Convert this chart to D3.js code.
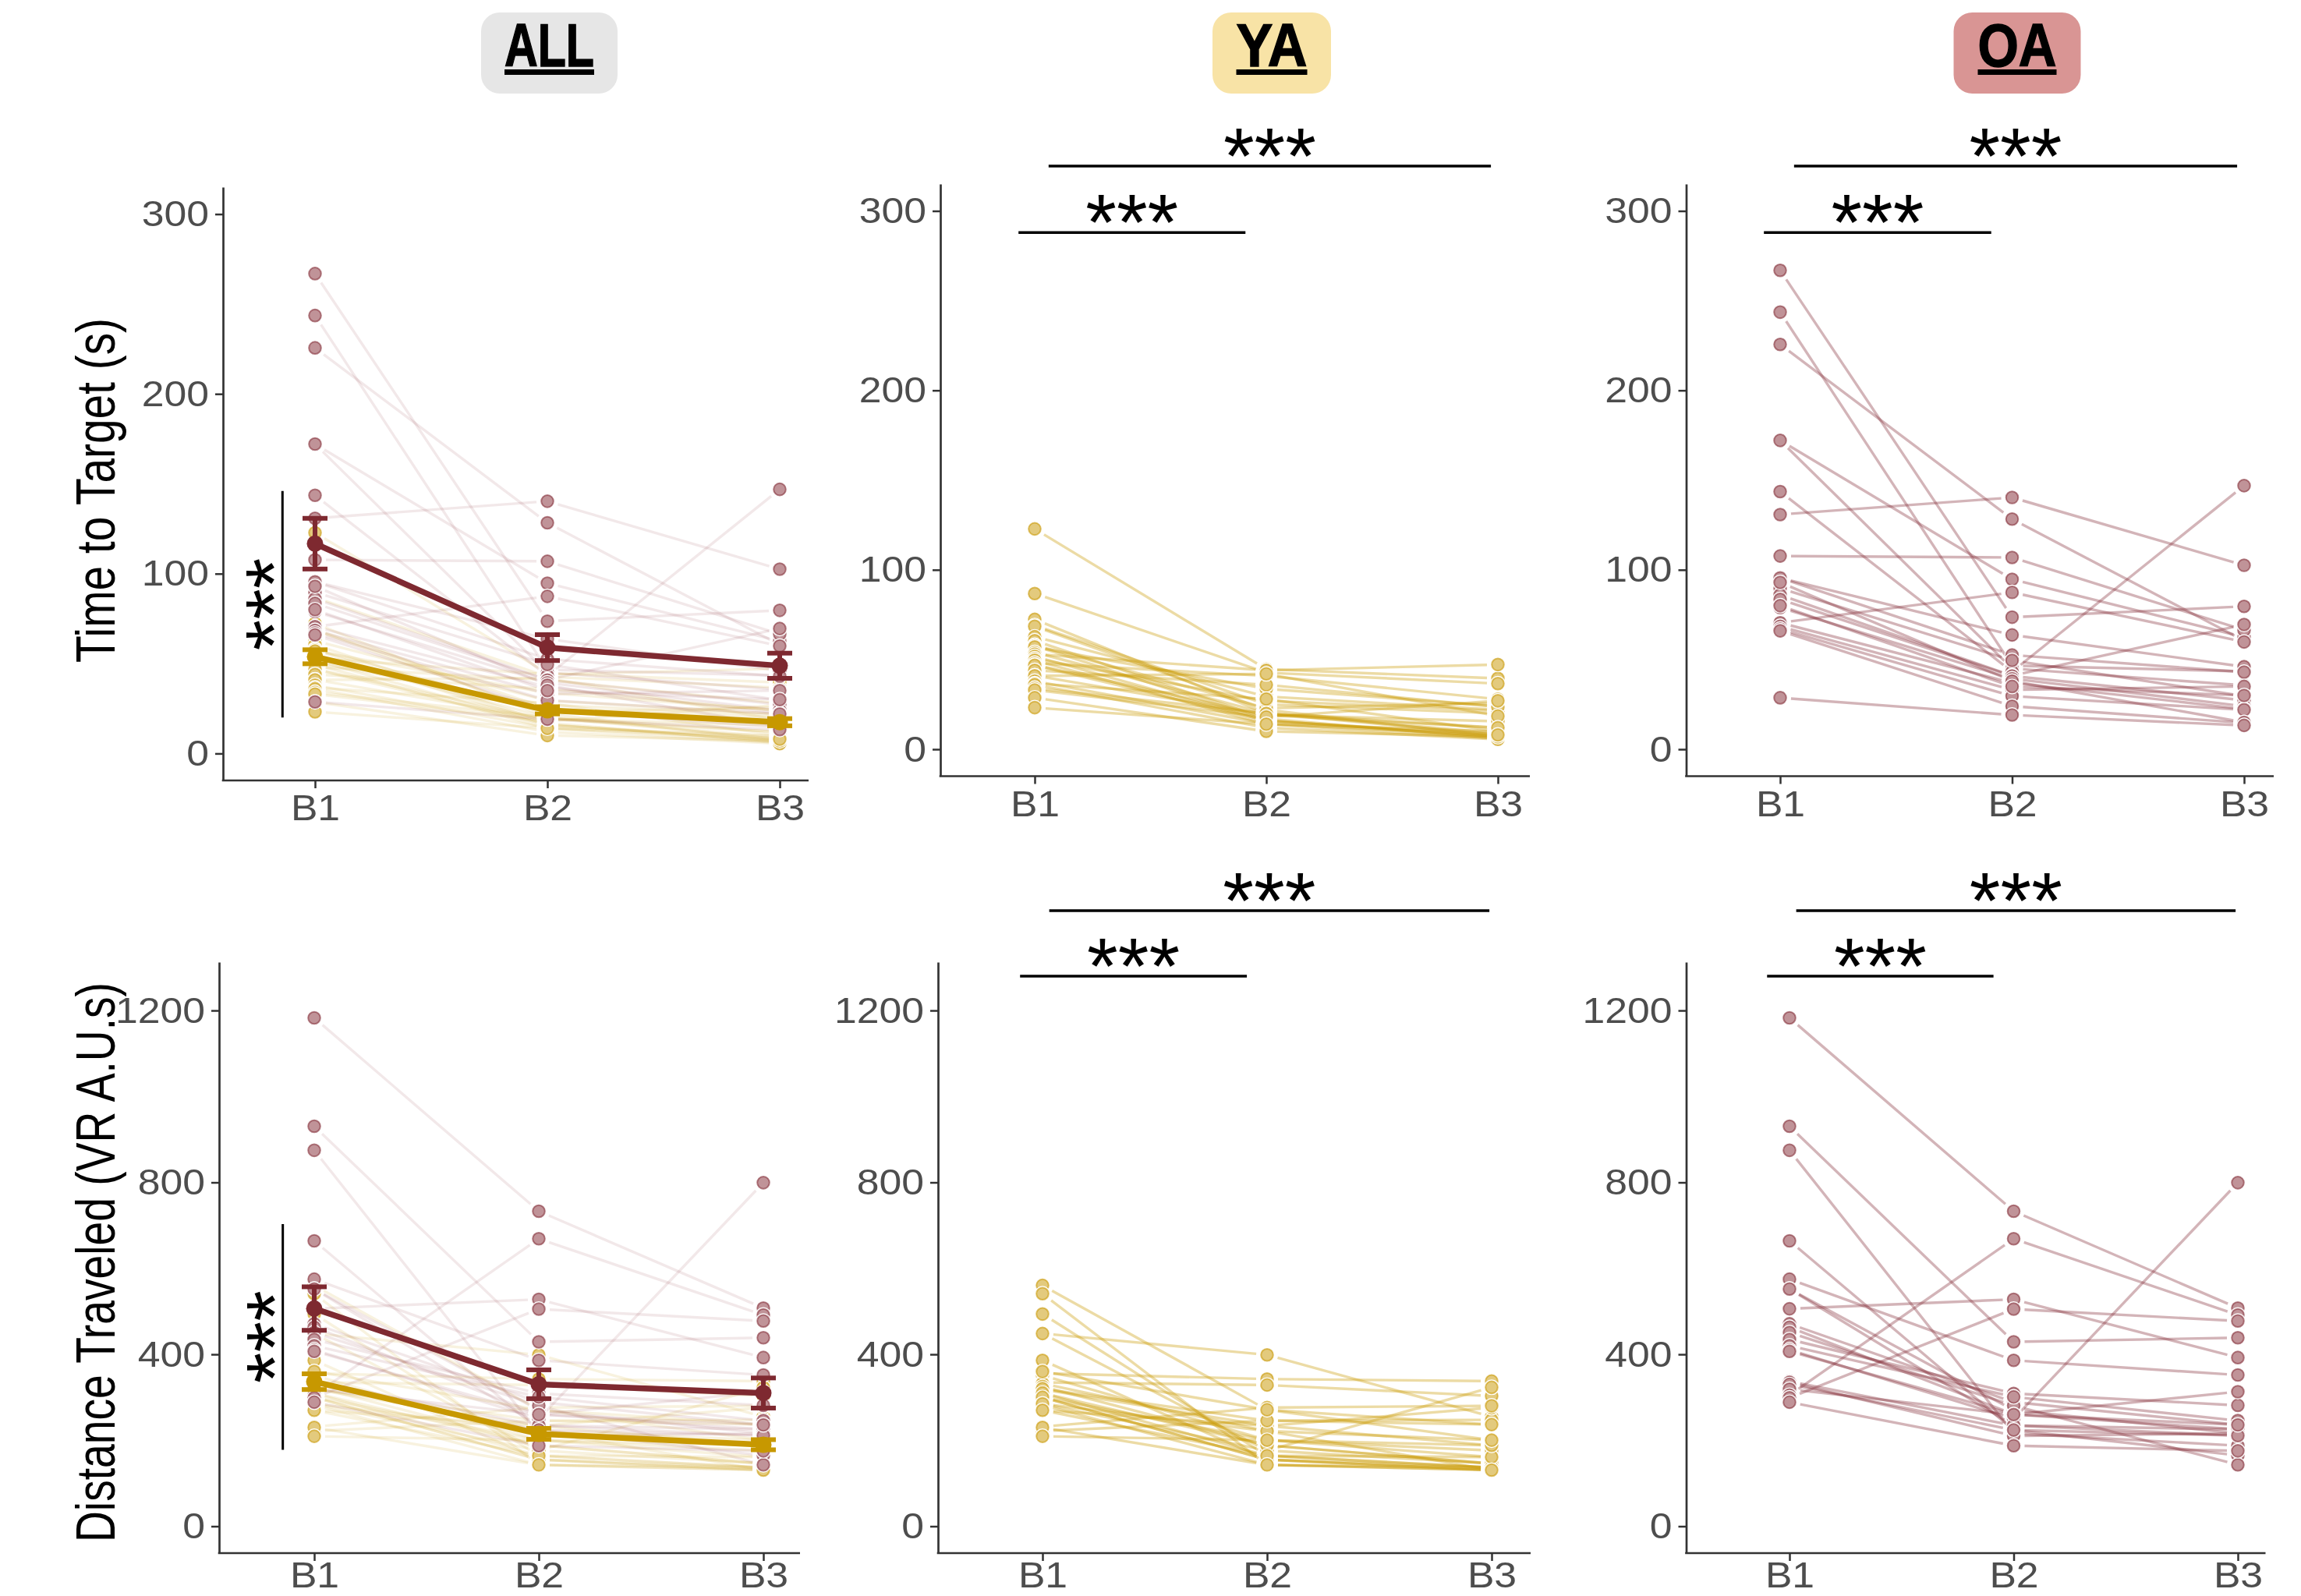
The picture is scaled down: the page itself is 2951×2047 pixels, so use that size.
<!DOCTYPE html>
<html>
<head>
<meta charset="utf-8">
<script src="https://cdn.jsdelivr.net/npm/d3@7"></script>
<style>
body { margin: 0; background: #fff; }
</style>
</head>
<body>
<div id="chart"></div>
<script>
// blocks on the x axis
var blocks = ["B1", "B2", "B3"];
var groups = ["ALL", "YA", "OA"];
var timeTicks = [0, 100, 200, 300];
var distTicks = [0, 400, 800, 1200];

// time to target (s), one entry per participant
var yaTimeB1 = [122.8, 86.8, 72.4, 69, 68.5, 62.7, 60.5, 58, 57.6, 57, 54, 53, 51.8, 50.5, 49.6, 48, 47, 46.8, 44, 41, 40.9, 38, 36.6, 36, 34, 33, 28.7, 23.2];
var yaTimeB2 = [44.6, 42.7, 20, 25, 22, 29.4, 17, 22.9, 16, 33.7, 20, 44, 15.6, 27, 14, 40.9, 19, 16, 35.9, 19.2, 42, 14.2, 28, 12, 20, 18, 10, 14];
var yaTimeB3 = [39.5, 36.6, 8, 20, 7, 22, 6, 25.7, 7, 24, 9, 47.2, 8.4, 21.4, 6, 27.9, 12, 6.9, 23.6, 15.6, 18.5, 9.9, 10, 5.5, 12, 27, 7, 8];

var oaTimeB1 = [266.9, 243.6, 225.6, 172.1, 172.1, 143.6, 130.8, 107.7, 95.5, 95.5, 89.7, 86, 83.5, 79, 70.5, 70.5, 68.5, 67, 66, 93, 28.7, 80];
var oaTimeB2 = [73.6, 46.6, 128.3, 94.7, 45, 43.2, 140.3, 106.9, 63.7, 52.5, 49.5, 41, 40.8, 39.3, 87.4, 37, 33.1, 29.6, 24, 38, 19.1, 35];
var oaTimeB3 = [79.6, 43.4, 60.5, 62.5, 35.6, 146.9, 102.5, 66.4, 46, 43, 29.6, 69.5, 27.3, 24, 59.8, 22.4, 35, 22, 14.7, 15, 13.3, 30];

// distance traveled (VR A.U.s)
var yaDistB1 = [560.4, 541, 493.8, 448.4, 448.4, 386.1, 355.8, 351, 334.7, 332, 325, 318.3, 309.3, 300, 320, 285, 282, 300, 269.9, 310, 300, 285, 231.8, 270, 221.5, 230, 209.4, 360];
var yaDistB2 = [271, 142.8, 164, 398.8, 176.1, 154.9, 342.5, 200.3, 328.6, 221.5, 188.2, 233.6, 164, 154.9, 245.7, 176.1, 142.8, 200.3, 233.6, 188.2, 154.9, 221.5, 276, 164, 245.7, 142.8, 200.3, 271];
var yaDistB3 = [236.6, 130.7, 136.7, 254.8, 145.8, 130.7, 337.7, 176.1, 303.2, 200.3, 145.8, 188.2, 136.7, 130.7, 247.5, 323.2, 136.7, 161, 276, 145.8, 136.7, 130.7, 280.2, 161, 236.6, 130.7, 188.2, 200.3];

var oaDistB1 = [1182.8, 930.7, 874.7, 664, 574.8, 552, 552, 506, 471, 463, 450.8, 434.6, 420, 410.3, 407, 337.3, 335, 330, 318.8, 305, 299, 288.7];
var oaDistB2 = [733, 429, 215.9, 223.9, 386, 270, 234.4, 527.9, 288.7, 260.4, 280.7, 309, 301, 250, 260, 234.4, 210.2, 223.9, 260, 668.9, 505.2, 187.5];
var oaDistB3 = [507.6, 438.6, 187.5, 164.8, 352, 216, 211, 392.5, 236, 225.5, 142.9, 281.4, 245.8, 799.4, 313, 225.5, 216, 211, 236, 491.5, 477.6, 175.4];

// group means and standard errors shown in the ALL panels
var yaTimeMean = [53.8, 24.0, 17.4], yaTimeSE = [3.9, 2.0, 2.0];
var oaTimeMean = [116.7, 58.9, 48.8], oaTimeSE = [14.1, 7.2, 7.0];
var yaDistMean = [336.4, 215, 189.7], yaDistSE = [18.3, 12.8, 11.8];
var oaDistMean = [506.5, 330.4, 310], oaDistSE = [50.6, 33.5, 35];

// significance brackets: [from block, to block, y value]
var timeBrackets = [[1.06, 2.97, 325], [0.93, 1.91, 288]];
var distBrackets = [[1.03, 2.99, 1432], [0.9, 1.91, 1280]];
var timeAllBracket = [0.86, 20, 146];
var distAllBracket = [0.86, 178, 703];

var maroon = "#86303a", gold = "#c99a06";
var maroonMean = "#7e2930", goldMean = "#c79800";
var headFill = ["#e6e6e6", "#f8e3a6", "#d99594"];

function rows(b1, b2, b3) {
	return b1.map(function (v, i) { return [v, b2[i], b3[i]]; });
}
var yaTime = rows(yaTimeB1, yaTimeB2, yaTimeB3);
var oaTime = rows(oaTimeB1, oaTimeB2, oaTimeB3);
var yaDist = rows(yaDistB1, yaDistB2, yaDistB3);
var oaDist = rows(oaDistB1, oaDistB2, oaDistB3);

var svg = d3.select("#chart").append("svg")
	.attr("width", 2951)
	.attr("height", 2047)
	.style("font-family", "'Liberation Sans', Arial, sans-serif");

var panels = [
	{ g: 0, m: "time", left: 286, right: 1037, top: 240, bottom: 1001, x1: 404, x3: 1000 },
	{ g: 1, m: "time", left: 1206, right: 1962, top: 236, bottom: 995.5, x1: 1327, x3: 1921 },
	{ g: 2, m: "time", left: 2162.5, right: 2916, top: 236, bottom: 995.5, x1: 2283, x3: 2878 },
	{ g: 0, m: "dist", left: 281, right: 1026, top: 1234, bottom: 1992, x1: 403, x3: 979 },
	{ g: 1, m: "dist", left: 1203, right: 1963, top: 1234, bottom: 1992, x1: 1337, x3: 1913 },
	{ g: 2, m: "dist", left: 2162.5, right: 2905.5, top: 1234, bottom: 1992, x1: 2295, x3: 2870 }
];

function shorten(x0, y0, x1, y1, gap) {
	var dx = x1 - x0, dy = y1 - y0;
	var L = Math.sqrt(dx * dx + dy * dy);
	if (L < 2 * gap + 1) return null;
	var ux = dx / L, uy = dy / L;
	return [x0 + ux * gap, y0 + uy * gap, x1 - ux * gap, y1 - uy * gap];
}

function drawSubjects(g, x, y, data, color, lineAlpha) {
	var segs = [];
	data.forEach(function (r) {
		for (var i = 0; i < 2; i++) {
			var s = shorten(x(i + 1), y(r[i]), x(i + 2), y(r[i + 1]), 14);
			if (s) segs.push(s);
		}
	});
	g.append("g").selectAll("line")
		.data(segs)
		.join("line")
		.attr("x1", function (d) { return d[0]; })
		.attr("y1", function (d) { return d[1]; })
		.attr("x2", function (d) { return d[2]; })
		.attr("y2", function (d) { return d[3]; })
		.attr("stroke", color)
		.attr("stroke-opacity", lineAlpha)
		.attr("stroke-width", 3.4);

	var pts = [];
	data.forEach(function (r) {
		r.forEach(function (v, i) { pts.push([i + 1, v]); });
	});
	var pg = g.append("g").selectAll("g")
		.data(pts)
		.join("g")
		.attr("transform", function (d) { return "translate(" + x(d[0]) + "," + y(d[1]) + ")"; });
	pg.append("circle").attr("r", 10).attr("fill", "#fff");
	pg.append("circle").attr("r", 7.8)
		.attr("fill", color).attr("fill-opacity", 0.52)
		.attr("stroke", color).attr("stroke-opacity", 0.6).attr("stroke-width", 2);
}

function drawSummary(g, x, y, mean, se, color) {
	g.append("path")
		.datum(mean)
		.attr("d", d3.line().x(function (d, i) { return x(i + 1); }).y(function (d) { return y(d); }))
		.attr("fill", "none")
		.attr("stroke", color)
		.attr("stroke-width", 7.5);
	var eb = g.append("g").selectAll("g")
		.data(mean)
		.join("g")
		.attr("stroke", color)
		.attr("stroke-width", 6);
	eb.append("line")
		.attr("x1", function (d, i) { return x(i + 1); })
		.attr("x2", function (d, i) { return x(i + 1); })
		.attr("y1", function (d, i) { return y(d - se[i]); })
		.attr("y2", function (d, i) { return y(d + se[i]); });
	[-1, 1].forEach(function (sgn) {
		eb.append("line")
			.attr("x1", function (d, i) { return x(i + 1) - 16; })
			.attr("x2", function (d, i) { return x(i + 1) + 16; })
			.attr("y1", function (d, i) { return y(d + sgn * se[i]); })
			.attr("y2", function (d, i) { return y(d + sgn * se[i]); });
	});
	g.append("g").selectAll("circle")
		.data(mean)
		.join("circle")
		.attr("cx", function (d, i) { return x(i + 1); })
		.attr("cy", function (d) { return y(d); })
		.attr("r", 10.5)
		.attr("fill", color);
}

function stars(g, tx, ty, rot) {
	g.append("text")
		.attr("transform", "translate(" + tx + "," + ty + ")" + (rot ? " rotate(-90)" : ""))
		.attr("text-anchor", "middle")
		.attr("font-size", 102)
		.attr("fill", "#000")
		.text("***");
}

panels.forEach(function (p) {
	var isTime = p.m === "time";
	var x = d3.scaleLinear().domain([1, 3]).range([p.x1, p.x3]);
	var y = d3.scaleLinear()
		.domain(isTime ? [-15, 315] : [-62.5, 1312.5])
		.range([p.bottom, p.top]);
	var g = svg.append("g");

	// axes
	var ya = g.append("g")
		.attr("transform", "translate(" + p.left + ",0)")
		.call(d3.axisLeft(y)
			.tickValues(isTime ? timeTicks : distTicks)
			.tickFormat(d3.format("d"))
			.tickSize(10).tickSizeOuter(0).tickPadding(8));
	var xa = g.append("g")
		.attr("transform", "translate(0," + p.bottom + ")")
		.call(d3.axisBottom(x).tickValues([1, 2, 3]).tickFormat(function (d) { return blocks[d - 1]; })
			.tickSize(10).tickPadding(isTime ? 8 : 1));
	xa.select(".domain").remove();
	g.append("line")
		.attr("x1", p.left - 1.3).attr("x2", p.right)
		.attr("y1", p.bottom).attr("y2", p.bottom)
		.attr("stroke", "#333").attr("stroke-width", 2.7);
	[ya, xa].forEach(function (a) {
		a.selectAll(".domain").attr("stroke", "#333").attr("stroke-width", 2.7);
		a.selectAll(".tick line").attr("stroke", "#333").attr("stroke-width", 2.5);
		a.selectAll(".tick text")
			.attr("fill", "#4d4d4d")
			.style("font-family", "'Liberation Sans', Arial, sans-serif")
			.style("font-size", "47px")
			.each(function () {
				var t = d3.select(this);
				t.attr("textLength", this.getComputedTextLength() * 1.1)
					.attr("lengthAdjust", "spacingAndGlyphs");
			});
	});

	var ya_ = isTime ? yaTime : yaDist, oa_ = isTime ? oaTime : oaDist;
	var plot = g.append("g");
	if (p.g === 0) {
		drawSubjects(plot, x, y, ya_, gold, 0.13);
		drawSubjects(plot, x, y, oa_, maroon, 0.11);
		drawSummary(plot, x, y, isTime ? oaTimeMean : oaDistMean, isTime ? oaTimeSE : oaDistSE, maroonMean);
		drawSummary(plot, x, y, isTime ? yaTimeMean : yaDistMean, isTime ? yaTimeSE : yaDistSE, goldMean);
		var ab = isTime ? timeAllBracket : distAllBracket;
		g.append("line")
			.attr("x1", x(ab[0])).attr("x2", x(ab[0]))
			.attr("y1", y(ab[1])).attr("y2", y(ab[2]))
			.attr("stroke", "#000").attr("stroke-width", 3);
		stars(g, x(ab[0]) + 24, y((ab[1] + ab[2]) / 2), true);
	} else {
		drawSubjects(plot, x, y, p.g === 1 ? ya_ : oa_, p.g === 1 ? gold : maroon, 0.36);
		(isTime ? timeBrackets : distBrackets).forEach(function (b) {
			g.append("line")
				.attr("x1", x(b[0])).attr("x2", x(b[1]))
				.attr("y1", y(b[2])).attr("y2", y(b[2]))
				.attr("stroke", "#000").attr("stroke-width", 3.5);
			stars(g, (x(b[0]) + x(b[1])) / 2, y(b[2]) + 22, false);
		});
	}
});

// column headers
var heads = [
	{ cx: 704.5, w: 175, tw: 115 },
	{ cx: 1631, w: 152, tw: 91 },
	{ cx: 2587, w: 163, tw: 101 }
];
heads.forEach(function (h, i) {
	svg.append("rect")
		.attr("x", h.cx - h.w / 2).attr("y", 16)
		.attr("width", h.w).attr("height", 104)
		.attr("rx", 24)
		.attr("fill", headFill[i]);
	svg.append("text")
		.attr("x", h.cx).attr("y", 85)
		.attr("text-anchor", "middle")
		.attr("font-size", 78)
		.attr("font-weight", "bold")
		.attr("textLength", h.tw)
		.attr("lengthAdjust", "spacingAndGlyphs")
		.attr("stroke", "#000")
		.attr("stroke-width", 1.5)
		.style("font-family", "'Liberation Sans Narrow', 'Liberation Sans', sans-serif")
		.text(groups[i]);
	svg.append("rect")
		.attr("x", h.cx - h.tw / 2).attr("y", 89)
		.attr("width", h.tw).attr("height", 7)
		.attr("fill", "#000");
});

// y titles
[["Time to Target (s)", 629, 442], ["Distance Traveled (VR A.U.s)", 1619, 718]].forEach(function (t) {
	svg.append("text")
		.attr("transform", "translate(147," + t[1] + ") rotate(-90)")
		.attr("text-anchor", "middle")
		.attr("font-size", 71)
		.attr("textLength", t[2])
		.attr("lengthAdjust", "spacingAndGlyphs")
		.style("font-family", "'Liberation Sans Narrow', 'Liberation Sans', sans-serif")
		.attr("fill", "#000")
		.text(t[0]);
});
</script>
</body>
</html>
